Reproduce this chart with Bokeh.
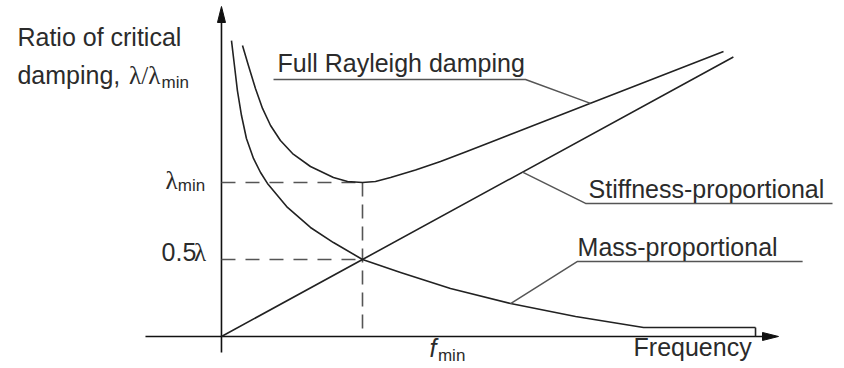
from bokeh.plotting import figure
from bokeh.models import Range1d
from bokeh.core.properties import value
from bokeh.embed import file_html
from bokeh.resources import INLINE

# Frequency in units of f_min, damping ratio in units of lambda_min
mass_f = [0.071, 0.092, 0.113, 0.142, 0.177, 0.227, 0.277, 0.326, 0.468, 0.631,
          0.794, 1.0, 1.270, 1.624, 2.050, 2.511, 2.993, 3.787]
mass_ratio = [1.922, 1.760, 1.597, 1.435, 1.286, 1.156, 1.065, 0.994, 0.838, 0.708,
              0.610, 0.5, 0.416, 0.312, 0.214, 0.130, 0.058, 0.058]

stiff_f = [0.0, 1.0, 3.63]
stiff_ratio = [0.0, 0.5, 1.815]

full_f = [0.149, 0.191, 0.241, 0.291, 0.348, 0.418, 0.504, 0.631, 0.794, 0.894,
          1.0, 1.092, 1.199, 1.376, 1.553, 1.730, 1.908, 2.085, 2.262, 2.440,
          2.617, 2.950, 3.255, 3.560]
full_ratio = [1.890, 1.760, 1.610, 1.481, 1.370, 1.273, 1.188, 1.104, 1.032, 1.006,
              1.0, 1.006, 1.032, 1.081, 1.136, 1.198, 1.261, 1.325, 1.388, 1.451,
              1.514, 1.633, 1.742, 1.851]

f_min = 1.0
ratio_min = 1.0
half_ratio = 0.5

W, H = 844, 368
X0, X1 = -1.567, 4.418
Y0, Y1 = -0.208, 2.182
sx = W / (X1 - X0)   # pixels per x unit
sy = H / (Y1 - Y0)   # pixels per y unit

INK = "#222222"
TXT = "#2b2b2b"
GREY = "#555555"
SANS = value("Liberation Sans")
SERIF = value("Liberation Serif")

p = figure(width=W, height=H, x_range=Range1d(X0, X1), y_range=Range1d(Y0, Y1),
           x_axis_type=None, y_axis_type=None, toolbar_location=None,
           output_backend="svg", min_border=0, outline_line_color=None)
p.background_fill_color = "white"
p.border_fill_color = "white"

# axes with narrow arrow heads
x_end, y_end = 3.95, 2.143
p.line([-0.539, x_end - 4 / sx], [0, 0], line_color="#111111", line_width=1.6)
p.line([0, 0], [-0.104, y_end - 4 / sy], line_color="#111111", line_width=1.6)
p.patch([x_end, x_end - 16 / sx, x_end - 16 / sx], [0, 4 / sy, -4 / sy], color="#111111")
p.patch([0, 4 / sx, -4 / sx], [y_end, y_end - 16 / sy, y_end - 16 / sy], color="#111111")

# reference dashes at f_min
p.line([0, f_min], [ratio_min, ratio_min], line_color=GREY, line_width=1.6, line_dash="14 10")
p.line([0, f_min], [half_ratio, half_ratio], line_color=GREY, line_width=1.6, line_dash="14 10")
p.line([f_min, f_min], [ratio_min, 0], line_color=GREY, line_width=1.6, line_dash="14 8")

# curves
p.line(mass_f, mass_ratio, line_color=INK, line_width=1.6, line_join="round")
p.line([mass_f[-1], mass_f[-1]], [mass_ratio[-1], 0], line_color=INK, line_width=1.6)
p.line(stiff_f, stiff_ratio, line_color=INK, line_width=1.6)
p.line(full_f, full_ratio, line_color=INK, line_width=1.6, line_join="round")

# leader lines: underline + pointer to curve
i_full = full_f.index(2.617)
i_mass = mass_f.index(2.050)
p.line([0.369, 2.156, full_f[i_full]], [1.669, 1.669, full_ratio[i_full]],
       line_color=GREY, line_width=1.5)
p.line([4.333, 2.582, 2.135], [0.864, 0.864, 0.5 * 2.135], line_color=GREY, line_width=1.5)
p.line([4.121, 2.525, mass_f[i_mass]], [0.487, 0.487, mass_ratio[i_mass]],
       line_color=GREY, line_width=1.5)

def label(x, y, s, size=25, font=SANS, style="normal", align="left"):
    p.text(x=[x], y=[y + 8 / sy], text=[s], text_font=font, text_font_size=f"{size}px",
           text_font_style=style, text_color=TXT, text_align=align,
           text_baseline="alphabetic")

# y-axis title
label(-1.447, 1.896, "Ratio of critical")
label(-1.447, 1.643, "damping,")
label(-0.655, 1.643, "λ/λ", font=SERIF)
label(-0.425, 1.597, "min", size=17)

# y tick labels
label(-0.397, 0.961, "λ", font=SERIF)
label(-0.310, 0.929, "min", size=17)
label(-0.425, 0.494, "0.5")
label(-0.195, 0.494, "λ", font=SERIF)

# x labels
label(1.475, -0.130, "f", style="italic")
label(1.535, -0.178, "min", size=17)
label(2.922, -0.123, "Frequency")

# curve labels
label(0.397, 1.727, "Full Rayleigh damping")
label(2.603, 0.903, "Stiffness-proportional")
label(2.525, 0.532, "Mass-proportional")

open("out.html", "w").write(file_html(p, INLINE))
